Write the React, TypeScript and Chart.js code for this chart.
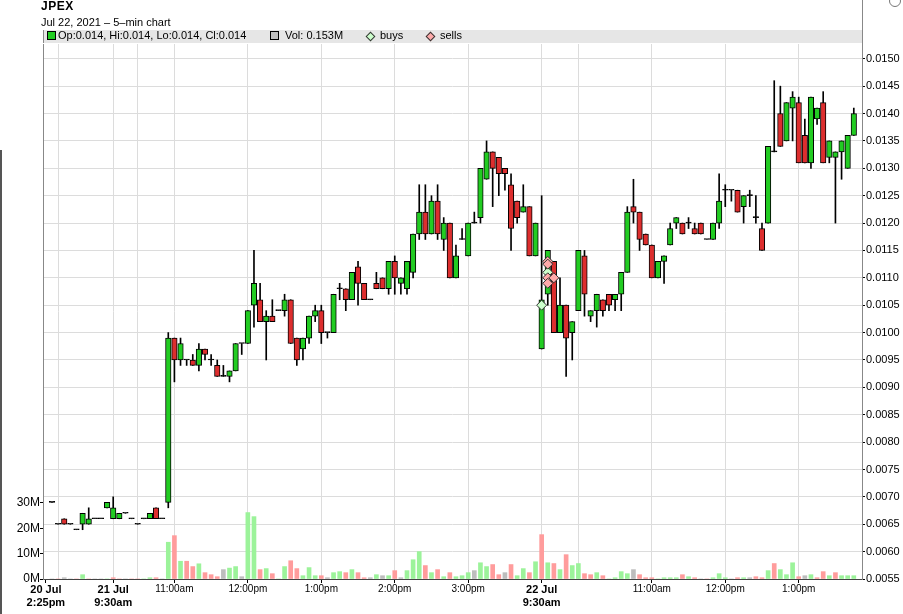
import React, { useEffect, useRef } from "react";
import { Chart, registerables } from "chart.js";

Chart.register(...registerables);

const FONT = "'Liberation Sans', Arial, sans-serif";

// ---- candle data (5-min bars, index = bar number) ----
const opens = [
  0.0069, 0.0065, 0.0066, 0.0065, 0.0064, 0.0065, 0.0065, 0.0066, 0.0066, 0.0068,
  0.0066, 0.0066, 0.0067, 0.0066, 0.0065, 0.0066, 0.0066, 0.0068, 0.0066, 0.0069,
  0.0099, 0.0095, 0.0095, 0.0095, 0.0094, 0.0097, 0.0095, 0.0094, 0.0092, 0.0092,
  0.0093, 0.0098, 0.0098, 0.0105, 0.0106, 0.0102, 0.0103, 0.0104, 0.0104, 0.0106,
  0.0099, 0.0097, 0.0099, 0.0103, 0.0104, 0.0100, 0.0100, 0.0108, 0.0108, 0.0106,
  0.0112, 0.0109, 0.0106, 0.0109, 0.0110, 0.0108, 0.0113, 0.0109, 0.0108, 0.0111,
  0.0118, 0.0122, 0.0118, 0.0124, 0.0117, 0.0120, 0.0110, 0.0117, 0.0114, 0.0120,
  0.0121, 0.0128, 0.0133, 0.0132, 0.0130, 0.0127, 0.0124, 0.0122, 0.0123, 0.0114,
  0.0097, 0.0107, 0.0113, 0.0100, 0.0105, 0.0100, 0.0104, 0.0114, 0.0103, 0.0104,
  0.0106, 0.0107, 0.0106, 0.0107, 0.0111, 0.0123, 0.0122, 0.0118, 0.0116, 0.0110,
  0.0113, 0.0116, 0.0120, 0.0120, 0.0120, 0.0119, 0.0120, 0.0117, 0.0117, 0.0120,
  0.0126, 0.0126, 0.0126, 0.0123, 0.0125, 0.0121, 0.0119, 0.0120, 0.0133, 0.0140,
  0.0135, 0.0141, 0.0142, 0.0136, 0.0131, 0.0139, 0.0142, 0.0132, 0.0132, 0.0133,
  0.0130, 0.0136,
];
const highs = [
  0.0069, 0.0065, 0.0066, 0.0065, 0.0064, 0.0067, 0.0068, 0.0066, 0.0066, 0.0069,
  0.0070, 0.0067, 0.0067, 0.0066, 0.0065, 0.0066, 0.0067, 0.0068, 0.0066, 0.0100,
  0.0099, 0.0099, 0.0095, 0.0096, 0.0098, 0.0097, 0.0096, 0.0095, 0.0094, 0.0093,
  0.0098, 0.0098, 0.0104, 0.0115, 0.0109, 0.0104, 0.0106, 0.0104, 0.0107, 0.0106,
  0.0099, 0.0099, 0.0103, 0.0105, 0.0105, 0.0100, 0.0107, 0.0109, 0.0108, 0.0111,
  0.0113, 0.0109, 0.0106, 0.0111, 0.0110, 0.0113, 0.0114, 0.0110, 0.0113, 0.0118,
  0.0127, 0.0127, 0.0125, 0.0127, 0.0121, 0.0120, 0.0116, 0.0119, 0.0120, 0.0122,
  0.0130, 0.0135, 0.0133, 0.0132, 0.0130, 0.0129, 0.0124, 0.0127, 0.0123, 0.0120,
  0.0125, 0.0115, 0.0113, 0.0110, 0.0105, 0.0102, 0.0115, 0.0115, 0.0104, 0.0107,
  0.0106, 0.0107, 0.0107, 0.0111, 0.0123, 0.0128, 0.0122, 0.0118, 0.0116, 0.0113,
  0.0114, 0.0120, 0.0121, 0.0120, 0.0121, 0.0120, 0.0120, 0.0117, 0.0120, 0.0129,
  0.0127, 0.0126, 0.0126, 0.0125, 0.0126, 0.0125, 0.0120, 0.0134, 0.0146, 0.0145,
  0.0142, 0.0144, 0.0143, 0.0139, 0.0143, 0.0141, 0.0144, 0.0135, 0.0133, 0.0135,
  0.0136, 0.0141,
];
const lows = [
  0.0069, 0.0065, 0.0065, 0.0065, 0.0064, 0.0064, 0.0065, 0.0066, 0.0066, 0.0068,
  0.0066, 0.0066, 0.0067, 0.0066, 0.0065, 0.0066, 0.0066, 0.0066, 0.0066, 0.0068,
  0.0091, 0.0094, 0.0094, 0.0094, 0.0093, 0.0095, 0.0094, 0.0092, 0.0092, 0.0091,
  0.0093, 0.0096, 0.0098, 0.0101, 0.0102, 0.0095, 0.0102, 0.0104, 0.0103, 0.0098,
  0.0094, 0.0095, 0.0098, 0.0102, 0.0098, 0.0099, 0.0100, 0.0106, 0.0104, 0.0106,
  0.0105, 0.0106, 0.0106, 0.0108, 0.0108, 0.0107, 0.0107, 0.0107, 0.0107, 0.0110,
  0.0117, 0.0117, 0.0118, 0.0117, 0.0115, 0.0110, 0.0110, 0.0117, 0.0114, 0.0120,
  0.0120, 0.0128, 0.0123, 0.0125, 0.0126, 0.0115, 0.0120, 0.0122, 0.0114, 0.0114,
  0.0097, 0.0105, 0.0100, 0.0100, 0.0092, 0.0095, 0.0104, 0.0103, 0.0102, 0.0101,
  0.0103, 0.0104, 0.0104, 0.0104, 0.0111, 0.0120, 0.0115, 0.0116, 0.0110, 0.0110,
  0.0109, 0.0116, 0.0119, 0.0118, 0.0119, 0.0118, 0.0118, 0.0117, 0.0117, 0.0119,
  0.0123, 0.0124, 0.0122, 0.0120, 0.0123, 0.0120, 0.0115, 0.0120, 0.0133, 0.0134,
  0.0135, 0.0135, 0.0131, 0.0131, 0.0130, 0.0138, 0.0131, 0.0131, 0.0120, 0.0128,
  0.0130, 0.0136,
];
const closes = [
  0.0069, 0.0065, 0.0065, 0.0065, 0.0064, 0.0067, 0.0066, 0.0066, 0.0066, 0.0069,
  0.0068, 0.0067, 0.0067, 0.0066, 0.0065, 0.0066, 0.0067, 0.0066, 0.0066, 0.0099,
  0.0095, 0.0098, 0.0095, 0.0094, 0.0097, 0.0096, 0.0095, 0.0092, 0.0092, 0.0093,
  0.0098, 0.0098, 0.0104, 0.0109, 0.0102, 0.0103, 0.0102, 0.0104, 0.0106, 0.0098,
  0.0095, 0.0099, 0.0103, 0.0104, 0.0100, 0.0100, 0.0107, 0.0108, 0.0106, 0.0111,
  0.0109, 0.0106, 0.0106, 0.0108, 0.0108, 0.0113, 0.0110, 0.0110, 0.0113, 0.0118,
  0.0122, 0.0118, 0.0124, 0.0118, 0.0120, 0.0110, 0.0114, 0.0117, 0.0120, 0.0120,
  0.0130, 0.0133, 0.0130, 0.0129, 0.0129, 0.0119, 0.0121, 0.0123, 0.0114, 0.0120,
  0.0106, 0.0115, 0.0100, 0.0105, 0.0099, 0.0102, 0.0115, 0.0107, 0.0104, 0.0107,
  0.0104, 0.0105, 0.0107, 0.0111, 0.0122, 0.0122, 0.0117, 0.0116, 0.0110, 0.0113,
  0.0114, 0.0119, 0.0121, 0.0118, 0.0120, 0.0118, 0.0118, 0.0117, 0.0120, 0.0124,
  0.0126, 0.0126, 0.0122, 0.0125, 0.0125, 0.0121, 0.0115, 0.0134, 0.0133, 0.0134,
  0.0142, 0.0143, 0.0131, 0.0131, 0.0143, 0.0141, 0.0131, 0.0135, 0.0133, 0.0135,
  0.0136, 0.0140,
];
// volume in millions of shares
const volumesM = [
  0, 0, 0.5, 0, 0, 1.7, 0, 0, 0, 0,
  0.5, 0, 0, 0, 0, 0, 0.5, 0.5, 0, 14.5,
  17.1, 7.0, 7.0, 4.9, 6.0, 2.5, 1.7, 0.9, 3.7, 4.3,
  4.9, 0.9, 26.2, 24.6, 3.7, 4.1, 2.1, 0, 4.9, 7.2,
  4.1, 1.3, 4.5, 1.3, 1.3, 0.5, 2.5, 2.9, 2.5, 3.7,
  2.5, 0.5, 0.5, 1.7, 1.3, 1.3, 3.3, 0.5, 3.3, 7.6,
  10.8, 5.3, 2.5, 3.7, 0.9, 2.5, 0.9, 1.3, 2.5, 3.3,
  6.4, 4.9, 5.7, 1.7, 2.5, 5.7, 1.3, 4.1, 2.5, 6.8,
  17.5, 6.4, 6.1, 3.7, 9.6, 5.3, 6.1, 2.1, 1.7, 2.5,
  1.3, 0, 0.5, 2.9, 2.1, 3.7, 1.7, 0.5, 0.5, 0,
  0.5, 0.5, 0.5, 1.7, 0.9, 0.5, 0, 0, 0.5, 2.1,
  0.5, 0, 0.5, 0.5, 0.5, 0.9, 0.5, 3.3, 6.1, 3.7,
  1.7, 6.4, 0.9, 1.3, 1.7, 0.5, 2.9, 1.3, 2.5, 1.3,
  1.3, 1.3,
];
// trade markers
const buyIdx = [80, 81];
const buyPrice = [0.0105, 0.0111];
const sellIdx = [81, 81, 81, 82, 81];
const sellPrice = [0.0113, 0.01125, 0.011, 0.011, 0.0109];

// axes
const priceTicks = [
  0.0055, 0.006, 0.0065, 0.007, 0.0075, 0.008, 0.0085, 0.009, 0.0095, 0.01,
  0.0105, 0.011, 0.0115, 0.012, 0.0125, 0.013, 0.0135, 0.014, 0.0145, 0.015,
];
const volumeTicks = [0, 10, 20, 30];
const xTickIdx = [-1, 1, 10, 14, 20, 32, 44, 56, 68, 80, 86, 98, 110, 122];
const xTickLabels: (string | string[])[] = [
  ["20 Jul", "2:25pm"], "", ["21 Jul", "9:30am"], "", "11:00am", "12:00pm", "1:00pm",
  "2:00pm", "3:00pm", ["22 Jul", "9:30am"], "", "11:00am", "12:00pm", "1:00pm",
];

const GREEN = "#22cc22";
const RED = "#dd2e2e";

export default function App() {
  const ref = useRef<HTMLCanvasElement | null>(null);

  useEffect(() => {
    if (!ref.current) return;
    const idx = opens.map((_, i) => i);
    const bodyColors = opens.map((o, i) => (closes[i] > o ? GREEN : closes[i] < o ? RED : "#000"));
    const volColors = closes.map((c, i) =>
      i === 0 || c === closes[i - 1] ? "#bdbdbd" : c > closes[i - 1] ? "#9cf39a" : "#ff9c9c"
    );

    const chart = new Chart(ref.current, {
      type: "bar",
      data: {
        datasets: [
          {
            type: "scatter",
            label: "sells",
            data: sellIdx.map((x, i) => ({ x, y: sellPrice[i] })),
            yAxisID: "y",
            xAxisID: "x",
            pointStyle: "rectRot",
            radius: 5,
            backgroundColor: "#ffaaaa",
            borderColor: "#333",
            borderWidth: 1,
            order: 0,
          } as any,
          {
            type: "scatter",
            label: "buys",
            data: buyIdx.map((x, i) => ({ x, y: buyPrice[i] })),
            yAxisID: "y",
            xAxisID: "x",
            pointStyle: "rectRot",
            radius: 5,
            backgroundColor: "#ccffcc",
            borderColor: "#333",
            borderWidth: 1,
            order: 1,
          } as any,
          {
            type: "bar",
            label: "body",
            data: idx.map((i) => ({ x: i, y: [opens[i], closes[i]] })),
            yAxisID: "y",
            xAxisID: "x",
            barThickness: 5.5,
            backgroundColor: bodyColors,
            borderColor: "#000",
            borderWidth: 1,
            borderSkipped: false,
            minBarLength: 1,
            grouped: false,
            order: 2,
          } as any,
          {
            type: "bar",
            label: "wick",
            data: idx.map((i) => ({ x: i, y: [lows[i], highs[i]] })),
            yAxisID: "y",
            xAxisID: "x",
            barThickness: 1,
            backgroundColor: "#000",
            borderWidth: 0,
            grouped: false,
            order: 3,
          } as any,
          {
            type: "bar",
            label: "volume",
            data: idx.map((i) => ({ x: i, y: volumesM[i] })),
            yAxisID: "yv",
            xAxisID: "x",
            barThickness: 4,
            backgroundColor: volColors,
            borderWidth: 0,
            grouped: false,
            order: 4,
          } as any,
        ],
      },
      options: {
        animation: false,
        responsive: false,
        devicePixelRatio: 1,
        events: [],
        layout: { padding: { top: 44, left: 0, right: 0, bottom: 0 } },
        plugins: { legend: { display: false }, tooltip: { enabled: false }, title: { display: false } },
        scales: {
          x: {
            type: "linear",
            min: -1.47,
            max: 132.34,
            offset: false,
            afterBuildTicks: (s: any) => {
              s.ticks = xTickIdx.map((v) => ({ value: v }));
            },
            afterFit: (s: any) => {
              s.height = 35;
            },
            ticks: {
              autoSkip: false,
              maxRotation: 0,
              minRotation: 0,
              padding: 0,
              color: "#000",
              callback: (_v: any, i: number) => xTickLabels[i],
              font: (ctx: any) => {
                const bold = Array.isArray(xTickLabels[ctx.index]);
                return { family: FONT, size: bold ? 11 : 10, weight: bold ? "bold" : "normal" };
              },
            },
            grid: {
              offset: false,
              lineWidth: 1,
              tickLength: 4,
              color: (ctx: any) => (ctx.index === 0 ? "rgba(0,0,0,0)" : "#dcdcdc"),
              tickColor: (ctx: any) => (xTickLabels[ctx.index] ? "#000" : "rgba(0,0,0,0)"),
            },
            border: { color: "#444", width: 1 },
          } as any,
          y: {
            type: "linear",
            position: "right",
            min: 0.0055,
            max: 0.01527,
            afterBuildTicks: (s: any) => {
              s.ticks = priceTicks.map((v) => ({ value: v }));
            },
            afterFit: (s: any) => {
              s.width = 41;
            },
            ticks: {
              padding: 1,
              color: "#000",
              font: { family: FONT, size: 11 },
              callback: (v: any) => Number(v).toFixed(4),
            },
            grid: { color: "#dcdcdc", tickColor: "#000", tickLength: 3 },
            border: { color: "#888" },
          } as any,
          yv: {
            type: "linear",
            position: "left",
            min: 0,
            max: 211,
            afterBuildTicks: (s: any) => {
              s.ticks = volumeTicks.map((v) => ({ value: v }));
            },
            afterFit: (s: any) => {
              s.width = 43;
            },
            ticks: {
              padding: 0,
              color: "#000",
              font: { family: FONT, size: 12 },
              callback: (v: any) => v + "M",
            },
            grid: { drawOnChartArea: false, tickColor: "#000", tickLength: 3 },
            border: { color: "#888" },
          } as any,
        },
      },
    });
    return () => chart.destroy();
  }, []);

  const txt: React.CSSProperties = { position: "absolute", fontSize: 11, lineHeight: "13px", whiteSpace: "nowrap", color: "#000" };

  return (
    <div style={{ position: "absolute", left: 0, top: 0, width: 903, height: 614, background: "#fff", overflow: "hidden", fontFamily: FONT }}>
      <canvas ref={ref} width={903} height={614} style={{ position: "absolute", left: 0, top: 0, display: "block" }} />
      <div style={{ position: "absolute", left: 0, top: 150, width: 2, height: 464, background: "#555" }} />
      <div style={{ position: "absolute", left: 862, top: 0, width: 1, height: 44, background: "#888" }} />
      <div style={{ position: "absolute", left: 889, top: -5, width: 10, height: 10, border: "1px solid #777", borderRadius: "50%" }} />
      <div style={{ ...txt, left: 41, top: -1, fontSize: 12, lineHeight: "14px", fontWeight: "bold", letterSpacing: 0.5 }}>JPEX</div>
      <div style={{ ...txt, left: 41, top: 16 }}>Jul 22, 2021 – 5–min chart</div>
      <div style={{ position: "absolute", left: 43, top: 30, width: 819, height: 13, background: "#e6e6e6", borderLeft: "1px solid #888", boxSizing: "border-box" }} />
      <div style={{ position: "absolute", left: 47, top: 31, width: 9, height: 9, background: GREEN, border: "1px solid #000", boxSizing: "border-box" }} />
      <div style={{ ...txt, left: 58, top: 29 }}>Op:0.014, Hi:0.014, Lo:0.014, Cl:0.014</div>
      <div style={{ position: "absolute", left: 270, top: 31, width: 9, height: 9, background: "#c0c0c0", border: "1px solid #000", boxSizing: "border-box" }} />
      <div style={{ ...txt, left: 285, top: 29 }}>Vol: 0.153M</div>
      <div style={{ position: "absolute", left: 367, top: 32.5, width: 7, height: 7, background: "#ccffcc", border: "1px solid #333", boxSizing: "border-box", transform: "rotate(45deg)" }} />
      <div style={{ ...txt, left: 380, top: 29 }}>buys</div>
      <div style={{ position: "absolute", left: 427, top: 32.5, width: 7, height: 7, background: "#ffaaaa", border: "1px solid #333", boxSizing: "border-box", transform: "rotate(45deg)" }} />
      <div style={{ ...txt, left: 440, top: 29 }}>sells</div>
    </div>
  );
}
